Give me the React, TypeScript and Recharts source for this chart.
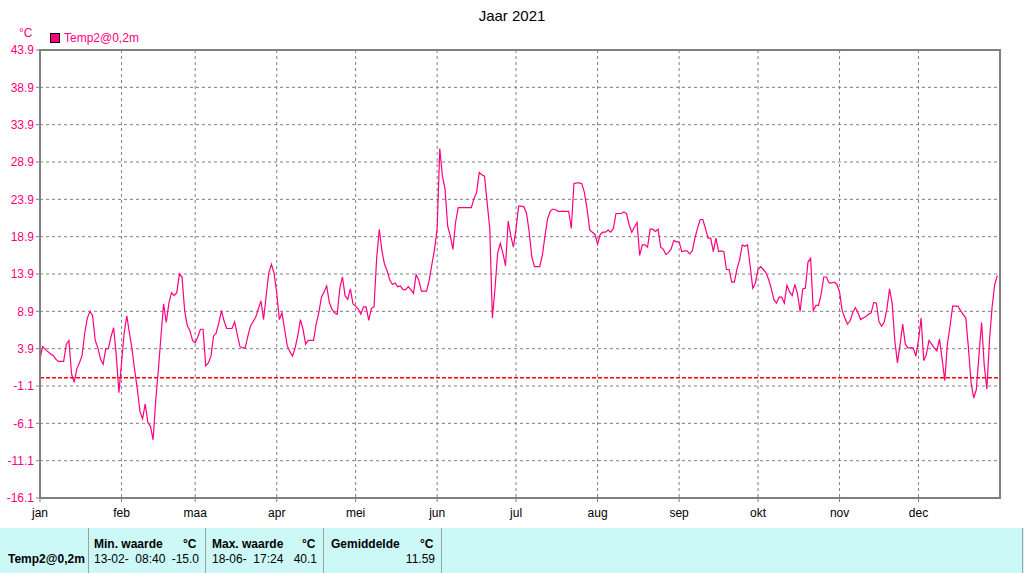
import {
  LineChart,
  Line,
  XAxis,
  YAxis,
  CartesianGrid,
  ReferenceLine,
  ReferenceArea,
} from "recharts";

// daily values per month, °C
const jan = [2.5, 4.2, 3.8, 3.5, 3.2, 3.0, 2.5, 2.2, 2.2, 2.2, 4.5, 5.0, 0.5, -0.6, 1.2, 2.0, 3.0, 6.0, 8.0, 8.9, 8.3, 5.0, 4.0, 2.5, 1.8, 3.9, 3.9, 5.5, 6.7, 3.0, -2.0];
const feb = [2.0, 6.0, 8.3, 6.0, 3.8, 1.0, -1.5, -4.5, -5.5, -3.5, -6.0, -6.5, -8.3, -3.0, 1.0, 5.6, 9.9, 7.4, 10.0, 11.4, 11.0, 11.4, 13.9, 13.5, 9.0, 7.0, 6.3, 5.0];
const maa = [4.7, 5.5, 6.5, 6.5, 1.6, 2.0, 2.9, 5.6, 6.0, 7.4, 9.0, 7.6, 6.6, 6.6, 6.6, 7.5, 5.8, 4.2, 4.0, 4.0, 5.5, 6.9, 7.5, 8.1, 9.2, 10.3, 7.8, 11.0, 14.1, 15.2, 14.0];
const apr = [11.4, 7.8, 8.7, 6.5, 4.3, 3.5, 2.9, 4.0, 5.6, 7.8, 6.5, 4.5, 5.0, 5.0, 5.0, 7.2, 8.7, 10.8, 11.5, 12.3, 10.1, 9.2, 8.7, 8.5, 12.0, 13.5, 11.0, 10.5, 11.9, 9.9];
const mei = [9.6, 9.2, 8.5, 9.5, 9.5, 7.7, 9.3, 9.5, 16.0, 19.9, 17.0, 15.2, 14.3, 13.1, 12.5, 12.7, 12.2, 12.3, 11.8, 11.8, 12.2, 11.8, 11.3, 13.8, 13.1, 11.6, 11.6, 11.6, 13.1, 15.2, 17.2];
const jun = [20.0, 30.7, 27.0, 25.3, 20.3, 19.0, 17.2, 20.8, 22.8, 22.8, 22.8, 22.8, 22.8, 22.8, 24.0, 24.8, 27.5, 27.2, 27.0, 23.5, 20.0, 8.0, 12.0, 16.7, 18.0, 16.7, 15.0, 21.0, 19.0, 17.5];
const jul = [20.0, 23.0, 23.0, 22.9, 22.0, 19.5, 16.2, 14.9, 14.9, 14.9, 16.4, 19.0, 21.3, 22.3, 22.6, 22.5, 22.3, 22.3, 22.3, 22.3, 22.3, 20.0, 26.0, 26.1, 26.1, 26.0, 24.8, 22.6, 19.8, 19.5, 19.2];
const aug = [17.9, 19.2, 19.5, 19.5, 19.8, 19.5, 20.0, 22.0, 22.0, 22.0, 22.2, 22.0, 20.5, 19.5, 20.2, 20.8, 16.4, 17.8, 17.8, 17.5, 19.9, 19.9, 19.6, 19.9, 17.5, 17.2, 16.5, 16.8, 17.3, 18.4, 18.2];
const sep = [18.2, 16.9, 17.0, 17.0, 16.6, 17.0, 18.7, 20.0, 21.2, 21.2, 20.0, 18.7, 18.7, 16.9, 18.7, 16.9, 17.0, 16.9, 14.5, 14.5, 12.8, 12.8, 14.6, 15.8, 17.8, 17.6, 17.8, 15.0, 12.0, 12.7];
const okt = [14.5, 14.9, 14.5, 14.1, 13.2, 12.0, 10.5, 10.0, 10.8, 10.8, 10.0, 12.4, 11.5, 11.0, 12.5, 11.2, 8.9, 11.9, 12.0, 15.5, 16.0, 9.0, 9.7, 9.7, 11.2, 13.5, 13.5, 12.7, 12.7, 12.8, 12.5];
const nov = [11.5, 9.0, 8.0, 7.2, 7.6, 8.7, 9.4, 8.7, 7.8, 8.0, 8.2, 8.5, 8.7, 10.1, 10.0, 7.5, 6.9, 7.5, 9.2, 11.9, 10.0, 5.0, 2.0, 4.4, 7.2, 4.5, 4.0, 4.0, 4.0, 2.9];
const dec = [5.0, 8.0, 2.3, 3.1, 5.0, 4.5, 4.0, 3.6, 5.2, 2.5, -0.4, 4.5, 6.9, 9.6, 9.6, 9.6, 9.0, 8.5, 8.0, 4.0, -0.6, -2.7, -1.6, 3.0, 7.4, 1.7, -1.5, 5.0, 9.5, 12.5, 13.7];

const monthNames = ["jan", "feb", "maa", "apr", "mei", "jun", "jul", "aug", "sep", "okt", "nov", "dec"];
const monthStarts = [0, 31, 59, 90, 120, 151, 181, 212, 243, 273, 304, 334];
const yTicks = [-16.1, -11.1, -6.1, -1.1, 3.9, 8.9, 13.9, 18.9, 23.9, 28.9, 33.9, 38.9, 43.9];

const temps = [...jan, ...feb, ...maa, ...apr, ...mei, ...jun, ...jul, ...aug, ...sep, ...okt, ...nov, ...dec];
const data = temps.map((t, i) => ({ day: i, t }));

const MAGENTA = "#ff0080";
const GRID = "#808080";
const FONT = "'Liberation Sans', Arial, sans-serif";

const cellText: React.CSSProperties = { position: "absolute", fontSize: 12, whiteSpace: "nowrap" };

export default function App() {
  return (
    <div
      style={{
        position: "absolute",
        left: 0,
        top: 0,
        width: 1024,
        height: 573,
        background: "#fff",
        fontFamily: FONT,
        overflow: "hidden",
      }}
    >
      <div style={{ position: "absolute", top: 7, width: 1024, textAlign: "center", fontSize: 15, color: "#000" }}>
        Jaar 2021
      </div>
      <div style={{ position: "absolute", left: 19, top: 26, fontSize: 12, color: MAGENTA }}>°C</div>
      <div
        style={{
          position: "absolute",
          left: 50,
          top: 33,
          width: 8,
          height: 8,
          background: MAGENTA,
          border: "1px solid #000",
        }}
      />
      <div style={{ position: "absolute", left: 64, top: 31, fontSize: 12, color: MAGENTA }}>Temp2@0,2m</div>

      <div style={{ position: "absolute", left: 0, top: 0 }}>
        <LineChart width={1024} height={528} data={data} margin={{ top: 50, right: 24, left: 0, bottom: 0 }}>
          <CartesianGrid strokeDasharray="3 3" stroke={GRID} />
          <ReferenceLine y={0} stroke="#ff0000" strokeWidth={1.5} strokeDasharray="4 2" />
          <XAxis
            dataKey="day"
            type="number"
            domain={[0, 365]}
            ticks={monthStarts}
            tickFormatter={(v: number) => monthNames[monthStarts.indexOf(v)] ?? ""}
            tick={{ fill: "#000", fontSize: 12, fontFamily: FONT }}
            axisLine={{ stroke: GRID, strokeWidth: 2 }}
            tickLine={{ stroke: GRID }}
            tickSize={4}
            tickMargin={6}
            height={30}
            interval={0}
          />
          <YAxis
            type="number"
            domain={[-16.1, 43.9]}
            ticks={yTicks}
            tickFormatter={(v: number) => v.toFixed(1)}
            tick={{ fill: MAGENTA, fontSize: 12, fontFamily: FONT }}
            axisLine={{ stroke: GRID, strokeWidth: 2 }}
            tickLine={{ stroke: GRID }}
            tickSize={4}
            width={40}
            interval={0}
          />
          <ReferenceArea x1={0} x2={365} y1={-16.1} y2={43.9} fill="none" stroke={GRID} strokeWidth={2} />
          <Line
            type="linear"
            dataKey="t"
            stroke={MAGENTA}
            strokeWidth={1.2}
            dot={false}
            isAnimationActive={false}
          />
        </LineChart>
      </div>

      <div style={{ position: "absolute", left: 0, top: 528, width: 1024, height: 45, background: "#ccf8f8" }}>
        {[88, 205, 323, 441, 1022].map((x) => (
          <div key={x} style={{ position: "absolute", left: x, top: 0, width: 1, height: 45, background: "#a0a0a0" }} />
        ))}
        <div style={{ ...cellText, left: 8, top: 24, fontWeight: "bold" }}>Temp2@0,2m</div>

        <div style={{ ...cellText, left: 94, top: 9, fontWeight: "bold" }}>Min. waarde</div>
        <div style={{ ...cellText, left: 183, top: 9, fontWeight: "bold" }}>°C</div>
        <div style={{ ...cellText, left: 94, top: 24 }}>13-02-&nbsp; 08:40</div>
        <div style={{ ...cellText, right: 1024 - 199, top: 24 }}>-15.0</div>

        <div style={{ ...cellText, left: 212, top: 9, fontWeight: "bold" }}>Max. waarde</div>
        <div style={{ ...cellText, left: 302, top: 9, fontWeight: "bold" }}>°C</div>
        <div style={{ ...cellText, left: 212, top: 24 }}>18-06-&nbsp; 17:24</div>
        <div style={{ ...cellText, right: 1024 - 317, top: 24 }}>40.1</div>

        <div style={{ ...cellText, left: 331, top: 9, fontWeight: "bold" }}>Gemiddelde</div>
        <div style={{ ...cellText, left: 420, top: 9, fontWeight: "bold" }}>°C</div>
        <div style={{ ...cellText, right: 1024 - 435, top: 24 }}>11.59</div>
      </div>
    </div>
  );
}
